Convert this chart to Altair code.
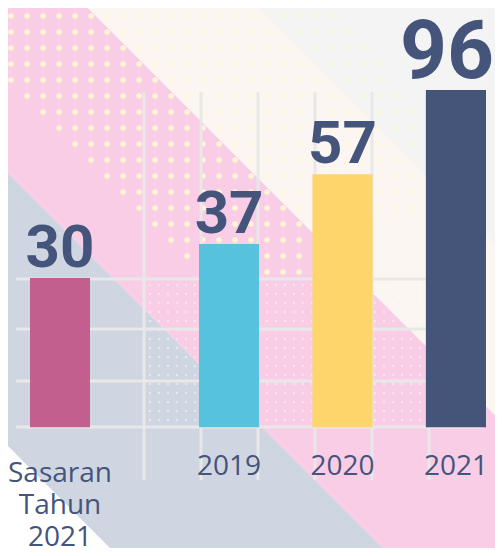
import altair as alt
import numpy as np
import pandas as pd

# ---- data -------------------------------------------------------------
years = ["2019", "2020", "2021"]
year_values = [37, 57, 96]
year_colors = ["#57c2de", "#fed56b", "#45557a"]

target_label = "Sasaran Tahun 2021"
target_value = 30
target_color = "#c25f8f"

# ---- style ------------------------------------------------------------
TEXT = "#45547a"
W, H = 487, 540
BASE = 11.9                      # value where the bars start on the log scale
Y_DOMAIN = [5.634, 159.6]
yscale = alt.Scale(type="log", domain=Y_DOMAIN, nice=False)

# decoration scales expressed in page pixels
DX = alt.Scale(domain=[8, 8 + W], nice=False, zero=False)
DY = alt.Scale(domain=[8, 8 + H], nice=False, zero=False, reverse=True)

# diagonal background bands: (colour, low, high) of (x - y)
BANDS = [("#ffffff", -3000, -438), ("#cfd6e2", -438, -165),
         ("#f9cde5", -165, 80), ("#fcf6f3", 80, 250)]
GRID_X = [144, 201, 258, 315, 372, 429]
GRID_Y = [279, 329, 381, 427]
GRID_COLOR = "#e8e8e8"

band_layers = []
for col, lo, hi in BANDS:
    xs = [-700.0, 1300.0]
    bdf = pd.DataFrame({"x": xs, "y": [x - hi for x in xs], "y2": [x - lo for x in xs]})
    band_layers.append(
        alt.Chart(bdf).mark_area(color=col, clip=True, opacity=1).encode(
            x=alt.X("x:Q", scale=DX, axis=None),
            y=alt.Y("y:Q", scale=DY, axis=None, stack=None),
            y2="y2:Q",
        )
    )

# decorative dot pattern (upper left)
gx, gy = np.meshgrid(np.arange(11, 420, 16), np.arange(16, 273, 16))
gx, gy = gx.ravel(), gy.ravel()
keep = (gx >= gy - 69) & (gx <= 330 + 0.8 * gy) & ~((gy > 208) & (gx > 315))
on_pink = (gx - gy) < 80
dots_df = pd.DataFrame({"x": gx[keep], "y": gy[keep], "pink": on_pink[keep]})
cream_dots = alt.Chart(dots_df).mark_circle(size=30, color="#fff6d3").encode(
    x=alt.X("x:Q", scale=DX, axis=None), y=alt.Y("y:Q", scale=DY, axis=None),
    opacity=alt.condition(alt.datum.pink, alt.value(1.0), alt.value(0.55)))

# faint dots inside grid cells
cx, cy = np.meshgrid(np.arange(150, 486, 9), np.arange(285, 426, 9))
cell_df = pd.DataFrame({"x": cx.ravel(), "y": cy.ravel()})
cell_dots = alt.Chart(cell_df).mark_circle(size=6, color="#ffffff", opacity=0.45).encode(
    x=alt.X("x:Q", scale=DX, axis=None), y=alt.Y("y:Q", scale=DY, axis=None))

vr = alt.Chart(pd.DataFrame({"x": GRID_X, "y": [92] * len(GRID_X), "y2": [480] * len(GRID_X)})).mark_rule(
    color=GRID_COLOR, strokeWidth=3).encode(
    x=alt.X("x:Q", scale=DX, axis=None), y=alt.Y("y:Q", scale=DY, axis=None), y2="y2:Q")
hr = alt.Chart(pd.DataFrame({"y": GRID_Y, "x": [16] * len(GRID_Y), "x2": [482] * len(GRID_Y)})).mark_rule(
    color=GRID_COLOR, strokeWidth=3).encode(
    x=alt.X("x:Q", scale=DX, axis=None), x2="x2:Q", y=alt.Y("y:Q", scale=DY, axis=None))

deco = alt.layer(*band_layers, cell_dots, cream_dots, vr, hr)

# ---- target bar ---------------------------------------------------------
tdf = pd.DataFrame({"cat": [target_label], "value": [target_value]})
tx = alt.X("cat:N", scale=alt.Scale(domain=[target_label], range=[22, 82],
                                    paddingInner=0, paddingOuter=0), axis=None)
t_bar = alt.Chart(tdf).mark_bar(color=target_color).encode(
    x=tx, y=alt.Y("value:Q", scale=yscale, axis=None), y2=alt.datum(BASE))
t_val = alt.Chart(tdf).mark_text(font="Roboto", fontWeight="bold", fontSize=60, color=TEXT,
                                 baseline="alphabetic", dy=-11).encode(
    x=tx, y=alt.Y("value:Q", scale=yscale, axis=None), text="value:Q")
t_lab = alt.Chart(tdf).mark_text(font="Open Sans", fontSize=28, color=TEXT, baseline="alphabetic",
                                 dy=55, lineBreak=" ", lineHeight=32).encode(
    x=tx, y=alt.Y(datum=BASE, type="quantitative", scale=yscale, axis=None), text="cat:N")
target = alt.layer(t_bar, t_val, t_lab)

# ---- year bars ------------------------------------------------------------
ydf = pd.DataFrame({"year": years, "value": year_values, "color": year_colors})
yx = alt.X("year:N", scale=alt.Scale(domain=years, range=[191, 478],
                                     paddingInner=0.47, paddingOuter=0), axis=None)
y_bar = alt.Chart(ydf).mark_bar().encode(
    x=yx, y=alt.Y("value:Q", scale=yscale, axis=None), y2=alt.datum(BASE),
    color=alt.Color("color:N", scale=None))
y_val = alt.Chart(ydf[ydf.year != "2021"]).mark_text(font="Roboto", fontWeight="bold", fontSize=60,
                                                     color=TEXT, baseline="alphabetic", dy=-11).encode(
    x=yx, y=alt.Y("value:Q", scale=yscale, axis=None), text="value:Q")
y_val_top = alt.Chart(ydf[ydf.year == "2021"]).mark_text(font="Roboto", fontWeight="bold", fontSize=82,
                                                         color=TEXT, baseline="alphabetic", dy=-12, dx=-9).encode(
    x=yx, y=alt.Y("value:Q", scale=yscale, axis=None), text="value:Q")
y_lab = alt.Chart(ydf).mark_text(font="Open Sans", fontSize=28, color=TEXT, baseline="alphabetic",
                                 dy=48).encode(
    x=yx, y=alt.Y(datum=BASE, type="quantitative", scale=yscale, axis=None), text="year:N")
yearsL = alt.layer(y_bar, y_val, y_val_top, y_lab)

chart = alt.layer(deco, target, yearsL).resolve_scale(
    x="independent", y="independent", color="independent"
).properties(
    width=W, height=H, padding=0, autosize=alt.AutoSizeParams(type="none"),
    background="#f4f4f4",
).configure_view(stroke=None)

chart.save("out.html", embed_options={"renderer": "svg", "actions": False})
